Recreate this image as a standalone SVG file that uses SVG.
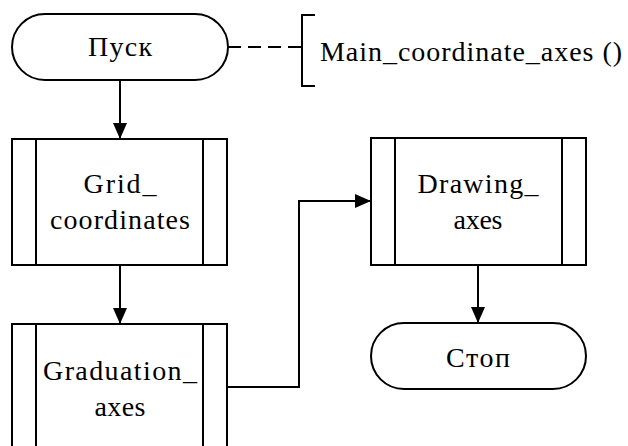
<svg xmlns="http://www.w3.org/2000/svg" width="628" height="446" viewBox="0 0 628 446">
<defs>
<marker id="a" markerWidth="16" markerHeight="14" refX="16" refY="7" orient="auto" markerUnits="userSpaceOnUse">
<path d="M0,0 L16,7 L0,14 Z" fill="#000"/>
</marker>
</defs>
<rect width="628" height="446" fill="#fff"/>
<g id="connectors" fill="none" stroke="#000" stroke-width="2">
<path d="M120,80 V139" marker-end="url(#a)"/>
<path d="M120,265 V324" marker-end="url(#a)"/>
<path d="M227,387 H299 V201 H371" marker-end="url(#a)"/>
<path d="M478,265 V323" marker-end="url(#a)"/>
<path d="M228,47 H302" stroke-dasharray="13 7"/>
</g>
<g id="start">
<rect x="12" y="14" width="216" height="66" rx="33" fill="#fff" stroke="#000" stroke-width="2"/>
<text x="120" y="56" font-family="Liberation Serif" font-size="28" text-anchor="middle" textLength="64" lengthAdjust="spacing">Пуск</text>
</g>
<g id="comment">
<path d="M315,15 H302 V86 H315" fill="none" stroke="#000" stroke-width="2"/>
<text x="320" y="61" font-family="Liberation Serif" font-size="28" textLength="302" lengthAdjust="spacing">Main_coordinate_axes ()</text>
</g>
<g id="grid">
<rect x="12" y="139" width="215" height="126" fill="#fff" stroke="#000" stroke-width="2"/>
<path d="M36,139 V265 M203,139 V265" stroke="#000" stroke-width="2"/>
<text x="120" y="193" font-family="Liberation Serif" font-size="28" text-anchor="middle" textLength="73" lengthAdjust="spacing">Grid_</text>
<text x="120" y="229" font-family="Liberation Serif" font-size="28" text-anchor="middle" textLength="140" lengthAdjust="spacing">coordinates</text>
</g>
<g id="graduation">
<rect x="12" y="324" width="215" height="126" fill="#fff" stroke="#000" stroke-width="2"/>
<path d="M36,324 V450 M203,324 V450" stroke="#000" stroke-width="2"/>
<text x="120" y="380" font-family="Liberation Serif" font-size="28" text-anchor="middle" textLength="154" lengthAdjust="spacing">Graduation_</text>
<text x="120" y="416" font-family="Liberation Serif" font-size="28" text-anchor="middle" textLength="51" lengthAdjust="spacing">axes</text>
</g>
<g id="drawing">
<rect x="371" y="138" width="215" height="127" fill="#fff" stroke="#000" stroke-width="2"/>
<path d="M395,138 V265 M562,138 V265" stroke="#000" stroke-width="2"/>
<text x="478" y="193" font-family="Liberation Serif" font-size="28" text-anchor="middle" textLength="121" lengthAdjust="spacing">Drawing_</text>
<text x="478" y="229" font-family="Liberation Serif" font-size="28" text-anchor="middle" textLength="49" lengthAdjust="spacing">axes</text>
</g>
<g id="stop">
<rect x="371" y="323" width="215" height="66" rx="33" fill="#fff" stroke="#000" stroke-width="2"/>
<text x="478" y="367" font-family="Liberation Serif" font-size="28" text-anchor="middle" textLength="64" lengthAdjust="spacing">Стоп</text>
</g>
</svg>
